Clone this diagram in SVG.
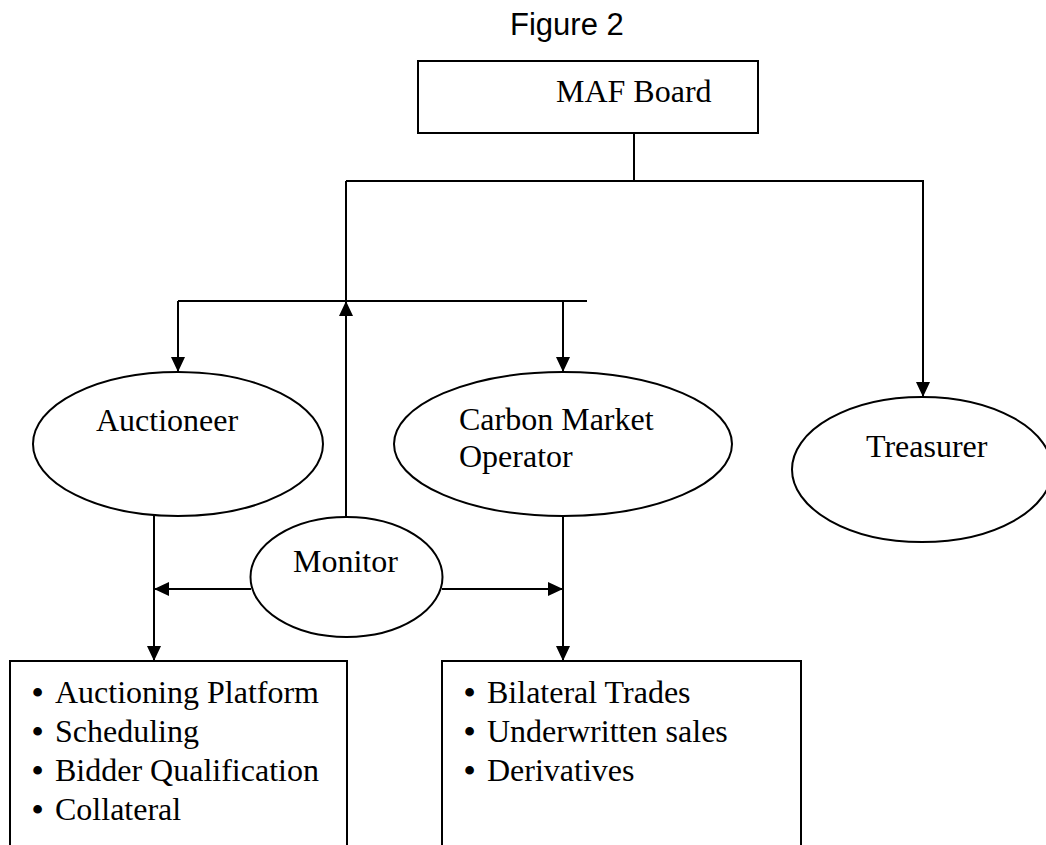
<svg xmlns="http://www.w3.org/2000/svg" width="1046" height="845" viewBox="0 0 1046 845">
<style>
.shape{fill:#fff;stroke:#000;stroke-width:2}
.line{fill:none;stroke:#000;stroke-width:2}
.t{font-family:"Liberation Serif","Times New Roman",serif;font-size:32px;fill:#000}
.title{font-family:"Liberation Sans",Arial,sans-serif;font-size:31px;fill:#000}
.bul{font-weight:bold}
</style>
<defs>
<marker id="ah" viewBox="0 0 15 14" refX="15" refY="7" markerWidth="15" markerHeight="14" markerUnits="userSpaceOnUse" orient="auto">
<path d="M0,0 L15,7 L0,14 Z" fill="#000"/>
</marker>
</defs>
<rect width="1046" height="845" fill="#fff"/>
<text class="title" x="510" y="35">Figure 2</text>
<g id="connectors">
<path class="line" d="M634,133 V181"/>
<path class="line" d="M346,181 H923 V397" marker-end="url(#ah)"/>
<path class="line" d="M178,301 H587"/>
<path class="line" d="M178,301 V372" marker-end="url(#ah)"/>
<path class="line" d="M563,301 V372" marker-end="url(#ah)"/>
<path class="line" d="M346,181 V301"/>
<path class="line" d="M346,517 V301" marker-end="url(#ah)"/>
<path class="line" d="M154,516 V661" marker-end="url(#ah)"/>
<path class="line" d="M563,516 V661" marker-end="url(#ah)"/>
<path class="line" d="M251,589 H154" marker-end="url(#ah)"/>
<path class="line" d="M442,589 H563" marker-end="url(#ah)"/>
</g>
<g id="maf-board">
<rect class="shape" x="418" y="61" width="340" height="72"/>
<text class="t" x="556" y="102">MAF Board</text>
</g>
<g id="auctioneer">
<ellipse class="shape" cx="178" cy="444" rx="145" ry="72"/>
<text class="t" x="96" y="431">Auctioneer</text>
</g>
<g id="carbon-market-operator">
<ellipse class="shape" cx="563" cy="444" rx="169" ry="72"/>
<text class="t" x="459" y="430">Carbon Market</text>
<text class="t" x="459" y="467">Operator</text>
</g>
<g id="treasurer">
<ellipse class="shape" cx="922" cy="469.5" rx="130" ry="72.5"/>
<text class="t" x="866" y="457">Treasurer</text>
</g>
<g id="monitor">
<ellipse class="shape" cx="346.5" cy="577" rx="96" ry="60"/>
<text class="t" x="293" y="572">Monitor</text>
</g>
<g id="auction-tasks">
<rect class="shape" x="10" y="661" width="337" height="200"/>
<text class="t" x="32" y="703"><tspan class="bul">•</tspan><tspan x="55">Auctioning Platform</tspan></text>
<text class="t" x="32" y="742"><tspan class="bul">•</tspan><tspan x="55">Scheduling</tspan></text>
<text class="t" x="32" y="781"><tspan class="bul">•</tspan><tspan x="55">Bidder Qualification</tspan></text>
<text class="t" x="32" y="820"><tspan class="bul">•</tspan><tspan x="55">Collateral</tspan></text>
</g>
<g id="market-tasks">
<rect class="shape" x="442" y="661" width="359" height="200"/>
<text class="t" x="464" y="703"><tspan class="bul">•</tspan><tspan x="487">Bilateral Trades</tspan></text>
<text class="t" x="464" y="742"><tspan class="bul">•</tspan><tspan x="487">Underwritten sales</tspan></text>
<text class="t" x="464" y="781"><tspan class="bul">•</tspan><tspan x="487">Derivatives</tspan></text>
</g>
</svg>
